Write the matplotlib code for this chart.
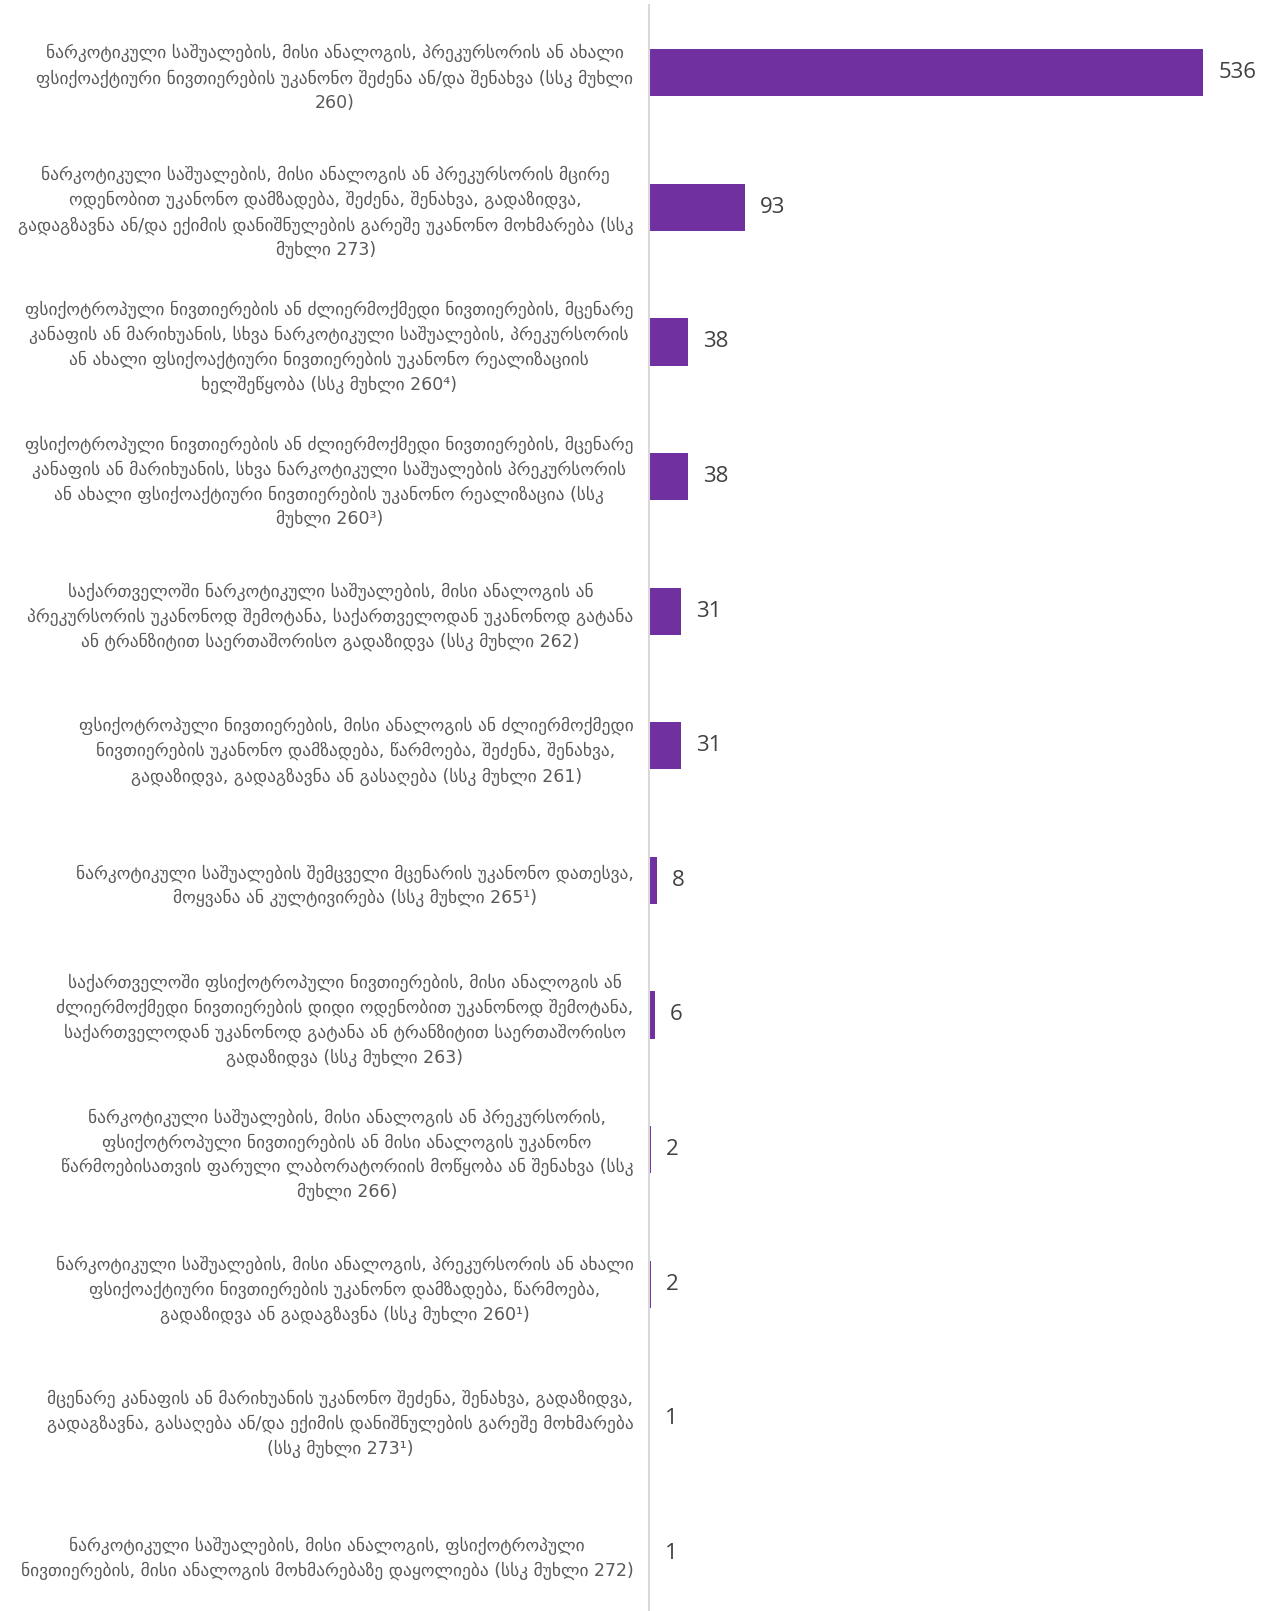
import matplotlib.pyplot as plt

# მონაცემები
labels = [
    "ნარკოტიკული საშუალების, მისი ანალოგის, პრეკურსორის ან ახალი\nფსიქოაქტიური ნივთიერების უკანონო შეძენა ან/და შენახვა (სსკ მუხლი\n260)",
    "ნარკოტიკული საშუალების, მისი ანალოგის ან პრეკურსორის მცირე\nოდენობით უკანონო დამზადება, შეძენა, შენახვა, გადაზიდვა,\nგადაგზავნა ან/და ექიმის დანიშნულების გარეშე უკანონო მოხმარება (სსკ\nმუხლი 273)",
    "ფსიქოტროპული ნივთიერების ან ძლიერმოქმედი ნივთიერების, მცენარე\nკანაფის ან მარიხუანის, სხვა ნარკოტიკული საშუალების, პრეკურსორის\nან ახალი ფსიქოაქტიური ნივთიერების უკანონო რეალიზაციის\nხელშეწყობა (სსკ მუხლი 260⁴)",
    "ფსიქოტროპული ნივთიერების ან ძლიერმოქმედი ნივთიერების, მცენარე\nკანაფის ან მარიხუანის, სხვა ნარკოტიკული საშუალების პრეკურსორის\nან ახალი ფსიქოაქტიური ნივთიერების უკანონო რეალიზაცია (სსკ\nმუხლი 260³)",
    "საქართველოში ნარკოტიკული საშუალების, მისი ანალოგის ან\nპრეკურსორის უკანონოდ შემოტანა, საქართველოდან უკანონოდ გატანა\nან ტრანზიტით საერთაშორისო გადაზიდვა (სსკ მუხლი 262)",
    "ფსიქოტროპული ნივთიერების, მისი ანალოგის ან ძლიერმოქმედი\nნივთიერების უკანონო დამზადება, წარმოება, შეძენა, შენახვა,\nგადაზიდვა, გადაგზავნა ან გასაღება (სსკ მუხლი 261)",
    "ნარკოტიკული საშუალების შემცველი მცენარის უკანონო დათესვა,\nმოყვანა ან კულტივირება (სსკ მუხლი 265¹)",
    "საქართველოში ფსიქოტროპული ნივთიერების, მისი ანალოგის ან\nძლიერმოქმედი ნივთიერების დიდი ოდენობით უკანონოდ შემოტანა,\nსაქართველოდან უკანონოდ გატანა ან ტრანზიტით საერთაშორისო\nგადაზიდვა (სსკ მუხლი 263)",
    "ნარკოტიკული საშუალების, მისი ანალოგის ან პრეკურსორის,\nფსიქოტროპული ნივთიერების ან მისი ანალოგის უკანონო\nწარმოებისათვის ფარული ლაბორატორიის მოწყობა ან შენახვა (სსკ\nმუხლი 266)",
    "ნარკოტიკული საშუალების, მისი ანალოგის, პრეკურსორის ან ახალი\nფსიქოაქტიური ნივთიერების უკანონო დამზადება, წარმოება,\nგადაზიდვა ან გადაგზავნა (სსკ მუხლი 260¹)",
    "მცენარე კანაფის ან მარიხუანის უკანონო შეძენა, შენახვა, გადაზიდვა,\nგადაგზავნა, გასაღება ან/და ექიმის დანიშნულების გარეშე მოხმარება\n(სსკ მუხლი 273¹)",
    "ნარკოტიკული საშუალების, მისი ანალოგის, ფსიქოტროპული\nნივთიერების, მისი ანალოგის მოხმარებაზე დაყოლიება (სსკ მუხლი 272)",
]
values = [536, 93, 38, 38, 31, 31, 8, 6, 2, 2, 1, 1]

fig = plt.figure(figsize=(12.72, 16.11), dpi=100)
ax = fig.add_axes([0.51, -0.006, 0.488, 1.0026])

pos = list(range(len(values)))
bars = ax.barh(pos, values, height=0.35, color='#7030A0')
ax.set_ylim(len(values) - 0.5, -0.5)
ax.set_xlim(0, 600)

ax.set_yticks(pos)
ax.set_yticklabels(labels, fontsize=12.5, color='#595959', linespacing=1.45,
                   family=['DejaVu Sans'], multialignment='center')
ax.tick_params(axis='y', length=0, pad=11)
ax.set_xticks([])

ax.bar_label(bars, padding=11, fontsize=16, color='#404040', family='Open Sans')

for s in ['top', 'right', 'bottom']:
    ax.spines[s].set_visible(False)
ax.spines['left'].set_color('#D9D9D9')
ax.spines['left'].set_linewidth(1.5)

fig.savefig('out.png', dpi=100)
